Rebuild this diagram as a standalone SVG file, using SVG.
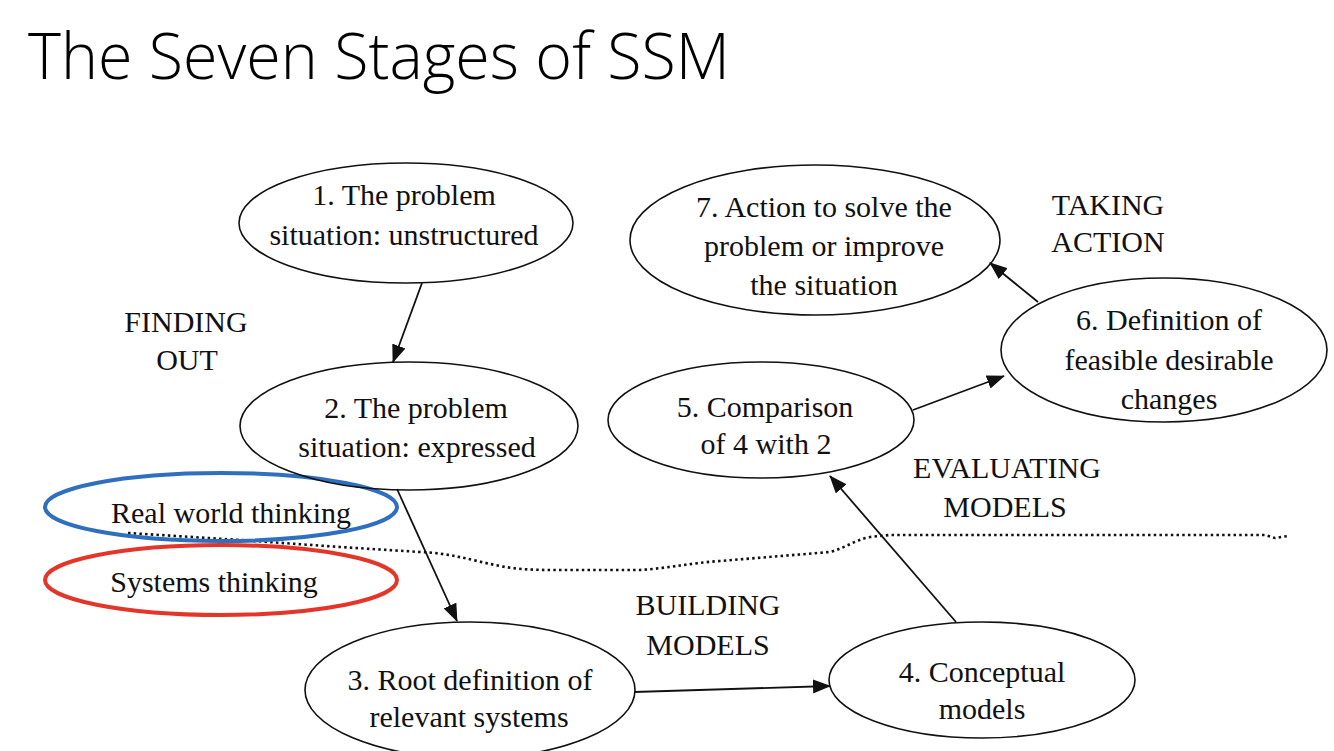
<svg xmlns="http://www.w3.org/2000/svg" width="1334" height="751" viewBox="0 0 1334 751">
<style>
.node{fill:none;stroke:#111;stroke-width:1.6}
.t{font-family:"Liberation Serif","Times New Roman",serif;font-size:30px;fill:#111;text-anchor:middle}
.lab{font-family:"Liberation Serif","Times New Roman",serif;font-size:30px;fill:#111;text-anchor:middle}
.edge{fill:none;stroke:#111;stroke-width:1.8}
.title{font-family:"Open Sans","Lato","Liberation Sans",sans-serif;font-weight:300;font-size:64px;fill:#000}
</style>
<defs>
<marker id="ah" markerUnits="userSpaceOnUse" markerWidth="18" markerHeight="14" viewBox="0 0 18 14" refX="17" refY="7" orient="auto">
<path d="M0,0 L18,7 L0,14 Z" fill="#111"/>
</marker>
</defs>
<rect width="1334" height="751" fill="#fff"/>
<text class="title" x="28" y="79" textLength="702" lengthAdjust="spacingAndGlyphs">The Seven Stages of SSM</text>

<g id="dotted-boundary">
<path d="M128,533 L240,540 L340,547 L420,552 C450,553 470,560 500,566 C520,570 540,570 560,570 L640,570 C670,568 690,563 720,561 L830,552 C845,548 855,540 870,537 L890,535 L1265,535 L1275,538 L1288,536" fill="none" stroke="#111" stroke-width="2.6" stroke-dasharray="2.5 3.2"/>
</g>

<g id="real-world">
<ellipse cx="221" cy="507" rx="176" ry="34" fill="none" stroke="#2f6fbf" stroke-width="4"/>
<text class="t" x="231" y="523">Real world thinking</text>
</g>
<g id="systems-thinking">
<ellipse cx="221" cy="580" rx="176" ry="35" fill="none" stroke="#e53529" stroke-width="4"/>
<text class="t" x="214" y="592">Systems thinking</text>
</g>

<g id="node1">
<ellipse class="node" cx="406" cy="223" rx="167" ry="60"/>
<text class="t" x="404" y="205">1. The problem</text>
<text class="t" x="404" y="245">situation: unstructured</text>
</g>
<g id="node2">
<ellipse class="node" cx="409" cy="426" rx="169" ry="64"/>
<text class="t" x="416" y="418">2. The problem</text>
<text class="t" x="417" y="457">situation: expressed</text>
</g>
<g id="node3">
<ellipse class="node" cx="470" cy="690" rx="165" ry="68"/>
<text class="t" x="470" y="690">3. Root definition of</text>
<text class="t" x="469" y="727">relevant systems</text>
</g>
<g id="node4">
<ellipse class="node" cx="982" cy="680" rx="153" ry="58"/>
<text class="t" x="982" y="682">4. Conceptual</text>
<text class="t" x="982" y="719">models</text>
</g>
<g id="node5">
<ellipse class="node" cx="761" cy="420" rx="153" ry="58"/>
<text class="t" x="765" y="417">5. Comparison</text>
<text class="t" x="766" y="454">of 4 with 2</text>
</g>
<g id="node6">
<ellipse class="node" cx="1164" cy="350" rx="163" ry="72"/>
<text class="t" x="1169" y="330">6. Definition of</text>
<text class="t" x="1169" y="370">feasible desirable</text>
<text class="t" x="1169" y="409">changes</text>
</g>
<g id="node7">
<ellipse class="node" cx="815" cy="240" rx="185" ry="75"/>
<text class="t" x="824" y="217">7. Action to solve the</text>
<text class="t" x="824" y="256">problem or improve</text>
<text class="t" x="824" y="295">the situation</text>
</g>

<g id="labels">
<text class="lab" x="186" y="332">FINDING</text>
<text class="lab" x="187" y="370">OUT</text>
<text class="lab" x="1108" y="215">TAKING</text>
<text class="lab" x="1108" y="252">ACTION</text>
<text class="lab" x="1007" y="478">EVALUATING</text>
<text class="lab" x="1005" y="517">MODELS</text>
<text class="lab" x="708" y="615">BUILDING</text>
<text class="lab" x="708" y="655">MODELS</text>
</g>

<g id="connectors">
<line class="edge" x1="422" y1="283" x2="393" y2="362" marker-end="url(#ah)"/>
<line class="edge" x1="397" y1="489" x2="457" y2="621" marker-end="url(#ah)"/>
<line class="edge" x1="634" y1="692" x2="830" y2="686" marker-end="url(#ah)"/>
<line class="edge" x1="956" y1="622" x2="830" y2="476" marker-end="url(#ah)"/>
<line class="edge" x1="913" y1="410" x2="1004" y2="376" marker-end="url(#ah)"/>
<line class="edge" x1="1038" y1="302" x2="990" y2="263" marker-end="url(#ah)"/>
</g>
</svg>
